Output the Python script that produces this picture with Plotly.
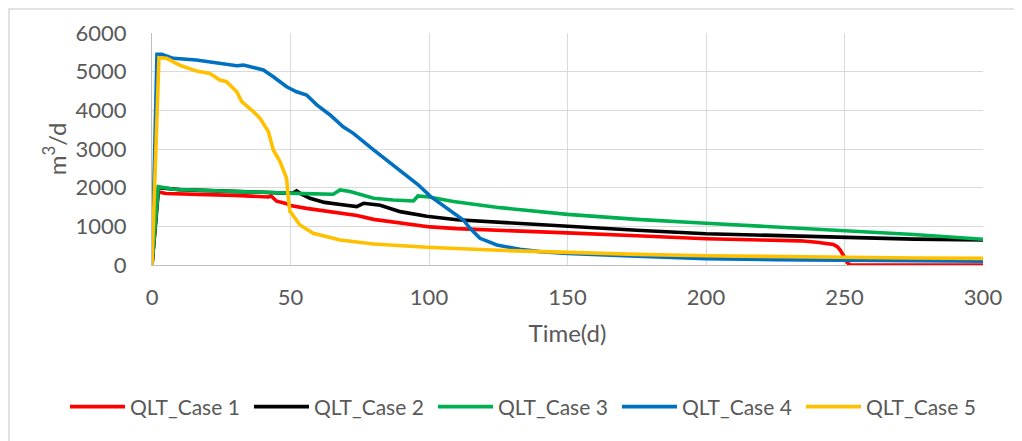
import plotly.graph_objects as go

# ---- data ----
names = ["QLT_Case 1", "QLT_Case 2", "QLT_Case 3", "QLT_Case 4", "QLT_Case 5"]
colors = ["#FF0000", "#000000", "#00B050", "#0070C0", "#FFC000"]

case1_days = [0, 2.3, 5, 10, 20, 30, 38, 40, 42, 43, 45, 48, 50.4, 55.8, 62, 67.8, 74, 80, 86, 92,
              96.8, 100.4, 110, 125.6, 138, 150, 175, 200, 220, 234, 240, 244, 246, 247.5, 248.5,
              250, 251, 252, 260, 280, 300]
case1_q = [0, 1890, 1850, 1835, 1820, 1800, 1770, 1760, 1760, 1785, 1650, 1600, 1530, 1465, 1410,
           1355, 1280, 1180, 1120, 1060, 1010, 985, 940, 888, 855, 830, 755, 680, 645, 625, 590,
           565, 530, 470, 380, 200, 60, 0, 0, 0, 0]

case2_days = [0, 2.3, 10, 20, 30, 40, 48, 51, 52.2, 54, 57, 62.3, 68, 73.9, 76.4, 82.4, 89.6, 99.2,
              110, 125.6, 150, 175, 200, 225, 250, 275, 300]
case2_q = [0, 2000, 1950, 1920, 1900, 1880, 1860, 1870, 1920, 1830, 1725, 1620, 1565, 1510, 1595,
           1545, 1380, 1260, 1170, 1103, 990, 900, 810, 760, 705, 670, 645]

case3_days = [0, 2.3, 7.7, 20, 30, 40, 48.6, 55, 65.4, 67.9, 71.5, 76, 80, 87, 94.4, 96, 100,
              108.8, 125.6, 150, 175, 200, 225, 250, 275, 300]
case3_q = [0, 2025, 1960, 1920, 1900, 1880, 1855, 1845, 1830, 1940, 1900, 1820, 1725, 1680, 1655,
           1785, 1760, 1640, 1483, 1310, 1180, 1080, 990, 885, 790, 665]

case4_days = [0, 1.8, 3.5, 7.7, 16, 23.4, 30.6, 33, 36.6, 40.2, 43.8, 48.6, 52.2, 55.8, 59.5, 64.3,
              69, 72.7, 80, 87, 92, 96, 100.4, 104, 108, 112.4, 114.8, 116, 118.4, 124.5, 132.8,
              140, 150, 175, 200, 225, 250, 275, 300]
case4_q = [0, 5450, 5450, 5345, 5300, 5215, 5155, 5170, 5105, 5045, 4870, 4610, 4480, 4395, 4140,
           3880, 3575, 3405, 2975, 2585, 2330, 2080, 1780, 1600, 1400, 1165, 950, 860, 690, 517,
           405, 345, 300, 225, 165, 140, 120, 108, 100]

case5_days = [0, 2.5, 5.3, 10.1, 16.1, 20.9, 24.5, 26.9, 30.6, 32.4, 36.6, 39, 42, 43.8, 46.2,
              48.6, 49.2, 49.8, 50.4, 53.4, 58.2, 67.9, 80, 99.2, 125, 150, 175, 200, 225, 250,
              275, 300]
case5_q = [0, 5360, 5345, 5165, 5015, 4955, 4785, 4740, 4480, 4225, 3965, 3795, 3450, 2975, 2675,
           2240, 1725, 1380, 1335, 1035, 820, 645, 545, 460, 380, 320, 275, 240, 215, 195, 180, 172]

x_ticks = [0, 50, 100, 150, 200, 250, 300]
y_ticks = [0, 1000, 2000, 3000, 4000, 5000, 6000]

series = [(case1_days, case1_q), (case2_days, case2_q), (case3_days, case3_q),
          (case4_days, case4_q), (case5_days, case5_q)]

FONT = "Lato"
GREY = "#595959"

fig = go.Figure()
for (d, q), n, c in zip(series, names, colors):
    fig.add_trace(go.Scatter(x=d, y=q, name=n, mode="lines",
                             line=dict(color=c, width=3.6)))

# page has an 8px body margin: figure is placed at (8, 8)
OFF = 8
W, H = 1022 - OFF, 441 - OFF
L, R, T, B = 152 - OFF, 39, 33 - OFF, 441 - 265
pw, ph = W - L - R, H - T - B

def px_x(p):  # figure-pixel -> paper
    return (p - L) / pw

def px_y(p):
    return (H - B - p) / ph

fig.update_layout(
    width=W, height=H,
    margin=dict(l=L, r=R, t=T, b=B),
    paper_bgcolor="white", plot_bgcolor="white",
    font=dict(family=FONT, size=20, color=GREY),
    showlegend=True,
    legend=dict(orientation="h", x=px_x(57), xanchor="left", y=px_y(407 - OFF), yanchor="middle",
                font=dict(family=FONT, size=21, color=GREY),
                itemwidth=55, entrywidth=114, entrywidthmode="pixels",
                bgcolor="rgba(0,0,0,0)", itemclick=False),
    shapes=[dict(type="rect", xref="paper", yref="paper",
                 x0=px_x(1), x1=px_x(1040), y0=px_y(460), y1=px_y(1),
                 line=dict(color="#d9d9d9", width=1.5), fillcolor="rgba(0,0,0,0)", layer="below")],
)

fig.update_xaxes(range=[0, 300], tickvals=x_ticks, ticktext=[str(v) for v in x_ticks],
                 showgrid=True, gridcolor="#d9d9d9", gridwidth=1.3,
                 showline=True, linecolor="#bfbfbf", linewidth=1.3, zeroline=False,
                 ticks="", ticklabelstandoff=12,
                 tickfont=dict(family=FONT, size=22, color=GREY),
                 title=dict(text="Time(d)", standoff=16, font=dict(family=FONT, size=24, color=GREY)))
fig.update_yaxes(range=[0, 6000], tickvals=y_ticks, ticktext=[str(v) for v in y_ticks],
                 showgrid=True, gridcolor="#d9d9d9", gridwidth=1.3,
                 showline=True, linecolor="#bfbfbf", linewidth=1.3, zeroline=False,
                 ticks="", ticklabelstandoff=20,
                 tickfont=dict(family=FONT, size=22, color=GREY),
                 title=dict(text="m<sup>3</sup>/d", standoff=2, font=dict(family=FONT, size=24, color=GREY)))

fig.write_html("out.html")
